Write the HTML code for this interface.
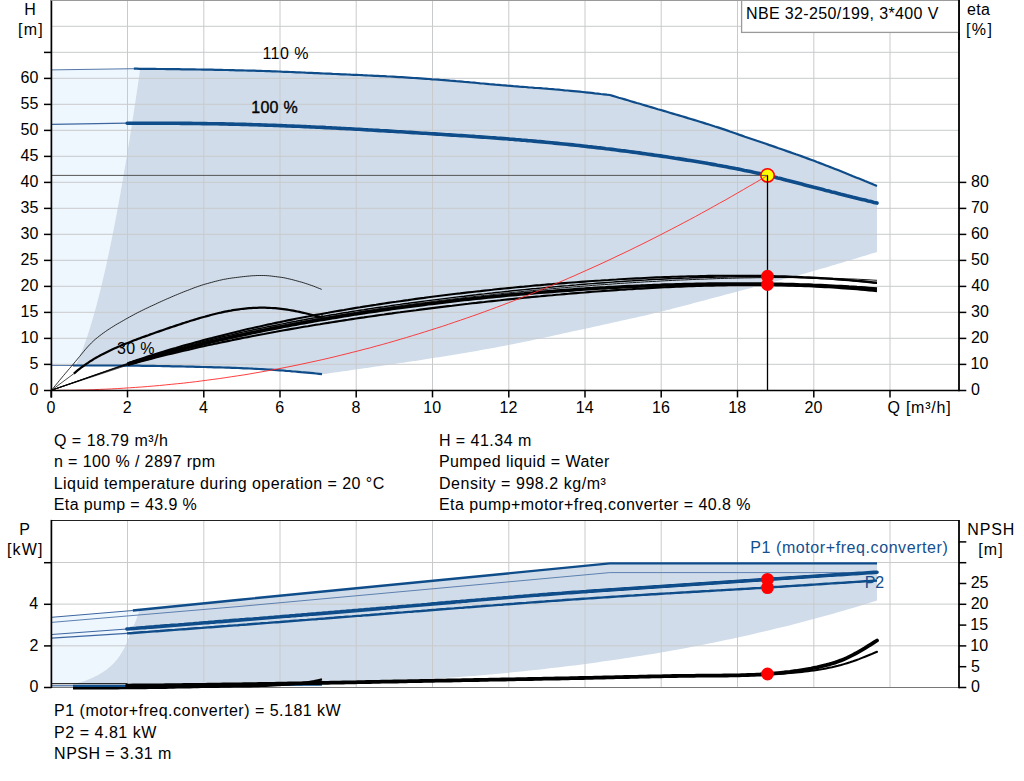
<!DOCTYPE html>
<html><head><meta charset="utf-8"><title>Pump curve</title>
<style>html,body{margin:0;padding:0;background:#fff;}svg{display:block;}text{font-family:"Liberation Sans",sans-serif;}</style></head>
<body>
<svg width="1024" height="781" viewBox="0 0 1024 781" font-family="'Liberation Sans', sans-serif" font-size="16">
<rect width="1024" height="781" fill="#fff"/>
<path d="M51.5 69.9 L133.8 68.7 L141 68.9 L140.1 68.7 L139.7 71.7 L139.3 74.7 L138.9 77.7 L138.4 80.7 L138 83.7 L137.5 86.7 L137.1 89.7 L136.7 92.7 L136.2 95.7 L135.8 98.7 L135.3 101.7 L134.9 104.7 L134.4 107.7 L134 110.7 L133.5 113.7 L133.1 116.7 L132.6 119.7 L132.1 122.7 L131.7 125.7 L131.2 128.7 L130.7 131.7 L130.2 134.7 L129.8 137.7 L129.3 140.7 L128.8 143.6 L128.3 146.6 L127.8 149.6 L127.4 152.6 L126.9 155.6 L126.4 158.6 L125.9 161.6 L125.4 164.6 L124.9 167.6 L124.3 170.6 L123.8 173.6 L123.3 176.6 L122.8 179.6 L122.3 182.6 L121.8 185.6 L121.2 188.6 L120.7 191.6 L120.2 194.6 L119.6 197.6 L119.1 200.6 L118.5 203.6 L118 206.6 L117.4 209.6 L116.9 212.6 L116.3 215.6 L115.7 218.6 L115.2 221.6 L114.6 224.6 L114 227.6 L113.4 230.6 L112.8 233.6 L112.2 236.6 L111.6 239.6 L111 242.6 L110.4 245.6 L109.7 248.6 L109.1 251.6 L108.5 254.6 L107.8 257.6 L107.2 260.6 L106.5 263.6 L105.9 266.6 L105.2 269.6 L104.5 272.6 L103.8 275.6 L103.1 278.6 L102.4 281.6 L101.7 284.6 L101 287.6 L100.2 290.6 L99.5 293.5 L98.7 296.5 L97.9 299.5 L97.2 302.5 L96.4 305.5 L95.6 308.5 L94.7 311.5 L93.9 314.5 L93 317.5 L92.2 320.5 L91.3 323.5 L90.4 326.5 L89.4 329.5 L88.5 332.5 L87.5 335.5 L86.5 338.5 L85.4 341.5 L84.4 344.5 L83.3 347.5 L82.1 350.5 L80.9 353.5 L79.7 356.5 L78.4 359.5 L77 362.5 L75.6 365.5 L51.5 365.6Z" fill="#eef6fe" stroke="none"/>
<path d="M75.6 365.5 L77 362.5 L78.4 359.5 L79.7 356.5 L80.9 353.5 L82.1 350.5 L83.3 347.5 L84.4 344.5 L85.4 341.5 L86.5 338.5 L87.5 335.5 L88.5 332.5 L89.4 329.5 L90.4 326.5 L91.3 323.5 L92.2 320.5 L93 317.5 L93.9 314.5 L94.7 311.5 L95.6 308.5 L96.4 305.5 L97.2 302.5 L97.9 299.5 L98.7 296.5 L99.5 293.5 L100.2 290.6 L101 287.6 L101.7 284.6 L102.4 281.6 L103.1 278.6 L103.8 275.6 L104.5 272.6 L105.2 269.6 L105.9 266.6 L106.5 263.6 L107.2 260.6 L107.8 257.6 L108.5 254.6 L109.1 251.6 L109.7 248.6 L110.4 245.6 L111 242.6 L111.6 239.6 L112.2 236.6 L112.8 233.6 L113.4 230.6 L114 227.6 L114.6 224.6 L115.2 221.6 L115.7 218.6 L116.3 215.6 L116.9 212.6 L117.4 209.6 L118 206.6 L118.5 203.6 L119.1 200.6 L119.6 197.6 L120.2 194.6 L120.7 191.6 L121.2 188.6 L121.8 185.6 L122.3 182.6 L122.8 179.6 L123.3 176.6 L123.8 173.6 L124.3 170.6 L124.9 167.6 L125.4 164.6 L125.9 161.6 L126.4 158.6 L126.9 155.6 L127.4 152.6 L127.8 149.6 L128.3 146.6 L128.8 143.6 L129.3 140.7 L129.8 137.7 L130.2 134.7 L130.7 131.7 L131.2 128.7 L131.7 125.7 L132.1 122.7 L132.6 119.7 L133.1 116.7 L133.5 113.7 L134 110.7 L134.4 107.7 L134.9 104.7 L135.3 101.7 L135.8 98.7 L136.2 95.7 L136.7 92.7 L137.1 89.7 L137.5 86.7 L138 83.7 L138.4 80.7 L138.9 77.7 L139.3 74.7 L139.7 71.7 L140.1 68.7 L142.8 68.8 L145.9 68.8 L148.9 68.9 L151.9 68.9 L154.9 68.9 L157.9 69 L160.9 69 L163.9 69 L166.9 69.1 L170 69.1 L173 69.1 L176 69.2 L179 69.2 L182 69.3 L185 69.3 L188 69.4 L191 69.4 L194.1 69.4 L197.1 69.5 L200.1 69.5 L203.1 69.6 L206.1 69.6 L209.1 69.7 L212.1 69.7 L215.1 69.8 L218.2 69.9 L221.2 69.9 L224.2 70 L227.2 70 L230.2 70.1 L233.2 70.2 L236.2 70.3 L239.2 70.3 L242.3 70.4 L245.3 70.5 L248.3 70.6 L251.3 70.6 L254.3 70.7 L257.3 70.8 L260.3 70.9 L263.3 71 L266.4 71.1 L269.4 71.2 L272.4 71.3 L275.4 71.4 L278.4 71.5 L281.4 71.7 L284.4 71.8 L287.4 71.9 L290.5 72 L293.5 72.1 L296.5 72.3 L299.5 72.4 L302.5 72.5 L305.5 72.7 L308.5 72.8 L311.5 72.9 L314.6 73.1 L317.6 73.2 L320.6 73.3 L323.6 73.5 L326.6 73.6 L329.6 73.7 L332.6 73.9 L335.6 74 L338.7 74.1 L341.7 74.3 L344.7 74.4 L347.7 74.5 L350.7 74.7 L353.7 74.8 L356.7 74.9 L359.7 75 L362.8 75.2 L365.8 75.3 L368.8 75.5 L371.8 75.6 L374.8 75.8 L377.8 75.9 L380.8 76.1 L383.9 76.2 L386.9 76.4 L389.9 76.5 L392.9 76.7 L395.9 76.9 L398.9 77.1 L401.9 77.2 L404.9 77.4 L408 77.6 L411 77.8 L414 78 L417 78.2 L420 78.4 L423 78.6 L426 78.8 L429 79 L432.1 79.3 L435.1 79.5 L438.1 79.7 L441.1 80 L444.1 80.2 L447.1 80.4 L450.1 80.7 L453.1 80.9 L456.2 81.2 L459.2 81.4 L462.2 81.7 L465.2 82 L468.2 82.2 L471.2 82.5 L474.2 82.7 L477.2 83 L480.3 83.3 L483.3 83.5 L486.3 83.8 L489.3 84.1 L492.3 84.3 L495.3 84.6 L498.3 84.8 L501.3 85.1 L504.4 85.3 L507.4 85.6 L510.4 85.8 L513.4 86.1 L516.4 86.3 L519.4 86.6 L522.4 86.8 L525.4 87 L528.5 87.3 L531.5 87.5 L534.5 87.8 L537.5 88 L540.5 88.2 L543.5 88.5 L546.5 88.7 L549.5 89 L552.6 89.2 L555.6 89.5 L558.6 89.7 L561.6 90 L564.6 90.3 L567.6 90.5 L570.6 90.8 L573.6 91.1 L576.7 91.4 L579.7 91.7 L582.7 92 L585.7 92.3 L588.7 92.6 L591.7 92.9 L594.7 93.3 L597.7 93.6 L600.8 94 L603.8 94.3 L606.8 94.7 L609.8 95 L612.8 95.9 L615.8 96.8 L618.8 97.7 L621.8 98.5 L624.8 99.4 L627.8 100.3 L630.8 101.2 L633.8 102.1 L636.8 103 L639.8 103.8 L642.8 104.7 L645.8 105.6 L648.8 106.5 L651.8 107.4 L654.8 108.3 L657.8 109.2 L660.8 110 L663.8 110.9 L666.8 111.8 L669.8 112.7 L672.8 113.6 L675.8 114.5 L678.9 115.4 L681.9 116.2 L684.9 117.1 L687.9 118.1 L690.9 119 L693.9 119.9 L696.9 120.8 L699.9 121.7 L702.9 122.6 L705.9 123.6 L708.9 124.5 L711.9 125.5 L714.9 126.5 L717.9 127.4 L720.9 128.4 L723.9 129.4 L726.9 130.4 L729.9 131.5 L732.9 132.5 L735.9 133.5 L738.9 134.6 L741.9 135.6 L744.9 136.7 L747.9 137.7 L750.9 138.7 L753.9 139.7 L756.9 140.8 L759.9 141.8 L762.9 142.8 L765.9 143.8 L768.9 144.9 L771.9 145.9 L774.9 146.9 L777.9 148 L780.9 149 L783.9 150 L786.9 151.1 L789.9 152.1 L792.9 153.2 L795.9 154.3 L798.9 155.3 L801.9 156.4 L804.9 157.5 L807.9 158.6 L811 159.7 L814 160.8 L817 162 L820 163.1 L823 164.2 L826 165.4 L829 166.6 L832 167.7 L835 168.9 L838 170.1 L841 171.3 L844 172.5 L847 173.7 L850 174.9 L853 176.2 L856 177.4 L859 178.6 L862 179.8 L865 181.1 L868 182.3 L871 183.5 L874 184.8 L877 186 L877 252 L877 252 L874 252.9 L871 253.8 L868 254.8 L865 255.7 L862 256.6 L859 257.5 L856 258.4 L853 259.3 L850 260.2 L847 261.1 L844 262 L841 262.9 L838 263.8 L835 264.7 L832 265.6 L829 266.5 L826 267.4 L823 268.2 L820 269.1 L817 270 L814 270.8 L811 271.7 L808 272.5 L805 273.4 L802 274.2 L799 275 L796 275.8 L793 276.7 L790 277.5 L787 278.3 L784 279.1 L781 279.9 L778 280.7 L775 281.5 L772 282.3 L769 283.1 L766 283.9 L763 284.7 L760 285.5 L757 286.3 L754 287.1 L751 287.9 L748 288.7 L745 289.5 L742 290.3 L739 291.1 L736 291.9 L733 292.7 L730 293.5 L727 294.3 L724 295.1 L721 295.9 L718 296.7 L715 297.5 L712 298.3 L709 299.1 L706 299.9 L703 300.7 L700 301.5 L697 302.3 L694 303.1 L691 303.9 L688 304.7 L685 305.5 L682 306.3 L679 307.1 L676 307.8 L673 308.6 L670 309.4 L667 310.1 L664 310.9 L661 311.6 L658 312.3 L655 313.1 L652 313.8 L649 314.5 L646 315.2 L643 315.9 L640 316.6 L637 317.3 L634 317.9 L631 318.6 L628 319.3 L625 320 L622 320.6 L619 321.3 L616 322 L613 322.6 L610 323.3 L607 323.9 L604 324.6 L601 325.2 L598 325.9 L595 326.5 L592 327.2 L589 327.9 L586 328.5 L583 329.2 L580 329.8 L577 330.5 L574 331.1 L571 331.8 L568 332.5 L565 333.1 L562 333.8 L559 334.4 L556 335.1 L553 335.7 L550 336.4 L547 337 L544 337.7 L541 338.3 L538 339 L535 339.6 L532 340.2 L529 340.9 L526 341.5 L523 342.1 L520 342.7 L517 343.3 L514 343.9 L511 344.5 L508 345.1 L505 345.7 L502 346.3 L499 346.8 L496 347.4 L493 348 L490 348.5 L487 349.1 L484 349.6 L481 350.1 L478 350.7 L475 351.2 L472 351.7 L469 352.2 L466 352.8 L463 353.3 L460 353.8 L457 354.3 L454 354.8 L451 355.2 L448 355.7 L445 356.2 L442 356.7 L439 357.2 L436 357.6 L433 358.1 L430 358.6 L427 359 L424 359.5 L421 360 L418 360.4 L415 360.9 L412 361.3 L409 361.8 L406 362.2 L403 362.7 L400 363.1 L397 363.6 L394 364 L391 364.4 L388 364.9 L385 365.3 L382 365.7 L379 366.2 L376 366.6 L373 367 L370 367.5 L367 367.9 L364 368.3 L361 368.8 L358 369.2 L355 369.6 L352 370 L349 370.5 L346 370.9 L343 371.3 L340 371.7 L337 372.2 L334 372.6 L331 373 L328 373.4 L325 373.9 L322 374.3 L322 374.1 L319 373.8 L316 373.5 L313 373.2 L310 372.9 L307 372.6 L304 372.3 L301 372.1 L298 371.8 L295 371.5 L292 371.3 L289 371 L286 370.8 L283 370.5 L280 370.3 L277 370.1 L274 369.9 L271 369.7 L268 369.5 L265 369.3 L262 369.1 L259 369 L256 368.8 L253 368.7 L250 368.5 L247 368.4 L244 368.3 L241 368.1 L238 368 L235 367.9 L232 367.8 L229 367.7 L226 367.6 L223 367.5 L220 367.4 L217 367.4 L214 367.3 L211 367.2 L208 367.1 L205 367 L202 367 L199 366.9 L196 366.8 L193 366.7 L190 366.7 L187 366.6 L184 366.5 L181 366.4 L178 366.4 L175 366.3 L172 366.3 L169 366.2 L166 366.1 L163 366.1 L160 366 L157 366 L154 365.9 L151 365.9 L148 365.8 L145 365.8 L142 365.8 L139 365.7 L136 365.7 L133 365.6 L130 365.6 L127 365.6 L124 365.6 L121 365.6 L118 365.5 L115 365.5 L112 365.5 L109 365.5 L106 365.5 L103 365.5 L100 365.5 L97 365.5 L94 365.5 L91 365.5 L88 365.5 L85 365.5 L82 365.5 L79 365.5 L76 365.5 L73 365.5Z" fill="#d0dce9" stroke="none"/>
<path d="M51.5 617.3 L132.8 610.5 L139.6 609.9 L139.6 610 L138.1 614.3 L136.6 618.5 L135.1 622.4 L133.5 626 L132 629.5 L130.5 633.2 L129 637 L127.5 640.8 L126 644.4 L124.5 647.7 L122.9 650.6 L121.4 653.1 L119.9 655.4 L118.4 657.5 L116.9 659.4 L115.4 661.2 L113.9 662.9 L112.4 664.4 L110.8 665.9 L109.3 667.2 L107.8 668.5 L106.3 669.7 L104.8 670.8 L103.3 671.8 L101.8 672.8 L100.2 673.7 L98.7 674.5 L97.2 675.4 L95.7 676.1 L94.2 676.9 L92.7 677.6 L91.2 678.3 L89.7 679 L88.1 679.6 L86.6 680.2 L85.1 680.8 L83.6 681.3 L82.1 681.8 L80.6 682.2 L79.1 682.6 L77.5 683 L76 683.3 L74.5 683.7 L73 684 L51.5 684.2Z" fill="#eef6fe" stroke="none"/>
<path d="M73 684 L74.5 683.7 L76 683.3 L77.5 683 L79.1 682.6 L80.6 682.2 L82.1 681.8 L83.6 681.3 L85.1 680.8 L86.6 680.2 L88.1 679.6 L89.7 679 L91.2 678.3 L92.7 677.6 L94.2 676.9 L95.7 676.1 L97.2 675.4 L98.7 674.5 L100.2 673.7 L101.8 672.8 L103.3 671.8 L104.8 670.8 L106.3 669.7 L107.8 668.5 L109.3 667.2 L110.8 665.9 L112.4 664.4 L113.9 662.9 L115.4 661.2 L116.9 659.4 L118.4 657.5 L119.9 655.4 L121.4 653.1 L122.9 650.6 L124.5 647.7 L126 644.4 L127.5 640.8 L129 637 L130.5 633.2 L132 629.5 L133.5 626 L135.1 622.4 L136.6 618.5 L138.1 614.3 L139.6 610 L240 599.7 L609.8 563.4 L877 563.4 L877 600.4 L877 600.5 L871.4 602.2 L865.8 604 L860.2 605.7 L854.6 607.4 L849 609 L843.4 610.7 L837.8 612.3 L832.2 613.9 L826.5 615.5 L820.9 617 L815.3 618.5 L809.7 620.1 L804.1 621.5 L798.5 623 L792.9 624.4 L787.3 625.9 L781.7 627.3 L776.1 628.6 L770.5 630 L764.9 631.3 L759.3 632.6 L753.7 633.9 L748.1 635.2 L742.5 636.5 L736.8 637.7 L731.2 638.9 L725.6 640.1 L720 641.3 L714.4 642.4 L708.8 643.6 L703.2 644.7 L697.6 645.8 L692 646.8 L686.4 647.9 L680.8 648.9 L675.2 650 L669.6 651 L664 651.9 L658.4 652.9 L652.8 653.9 L647.2 654.8 L641.5 655.7 L635.9 656.6 L630.3 657.5 L624.7 658.3 L619.1 659.2 L613.5 660 L607.9 660.8 L602.3 661.6 L596.7 662.4 L591.1 663.2 L585.5 663.9 L579.9 664.7 L574.3 665.4 L568.7 666.1 L563.1 666.8 L557.5 667.5 L551.8 668.1 L546.2 668.8 L540.6 669.4 L535 670 L529.4 670.6 L523.8 671.2 L518.2 671.8 L512.6 672.3 L507 672.9 L501.4 673.4 L495.8 673.9 L490.2 674.4 L484.6 674.9 L479 675.4 L473.4 675.9 L467.8 676.3 L462.2 676.8 L456.5 677.2 L450.9 677.6 L445.3 678 L439.7 678.4 L434.1 678.8 L428.5 679.2 L422.9 679.6 L417.3 679.9 L411.7 680.3 L406.1 680.6 L400.5 680.9 L394.9 681.2 L389.3 681.5 L383.7 681.8 L378.1 682.1 L372.5 682.4 L366.8 682.6 L361.2 682.9 L355.6 683.1 L350 683.4 L344.4 683.6 L338.8 683.8 L333.2 684 L327.6 684.2 L322 684.4 L322 684.4Z" fill="#d0dce9" stroke="none"/>
<line x1="127.5" y1="0" x2="127.5" y2="390.4" stroke="#c8cacc" stroke-width="1" />
<line x1="127.5" y1="520.5" x2="127.5" y2="687.5" stroke="#c8cacc" stroke-width="1" />
<line x1="203.8" y1="0" x2="203.8" y2="390.4" stroke="#c8cacc" stroke-width="1" />
<line x1="203.8" y1="520.5" x2="203.8" y2="687.5" stroke="#c8cacc" stroke-width="1" />
<line x1="280" y1="0" x2="280" y2="390.4" stroke="#c8cacc" stroke-width="1" />
<line x1="280" y1="520.5" x2="280" y2="687.5" stroke="#c8cacc" stroke-width="1" />
<line x1="356.2" y1="0" x2="356.2" y2="390.4" stroke="#c8cacc" stroke-width="1" />
<line x1="356.2" y1="520.5" x2="356.2" y2="687.5" stroke="#c8cacc" stroke-width="1" />
<line x1="432.5" y1="0" x2="432.5" y2="390.4" stroke="#c8cacc" stroke-width="1" />
<line x1="432.5" y1="520.5" x2="432.5" y2="687.5" stroke="#c8cacc" stroke-width="1" />
<line x1="508.8" y1="0" x2="508.8" y2="390.4" stroke="#c8cacc" stroke-width="1" />
<line x1="508.8" y1="520.5" x2="508.8" y2="687.5" stroke="#c8cacc" stroke-width="1" />
<line x1="585" y1="0" x2="585" y2="390.4" stroke="#c8cacc" stroke-width="1" />
<line x1="585" y1="520.5" x2="585" y2="687.5" stroke="#c8cacc" stroke-width="1" />
<line x1="661.2" y1="0" x2="661.2" y2="390.4" stroke="#c8cacc" stroke-width="1" />
<line x1="661.2" y1="520.5" x2="661.2" y2="687.5" stroke="#c8cacc" stroke-width="1" />
<line x1="737.5" y1="0" x2="737.5" y2="390.4" stroke="#c8cacc" stroke-width="1" />
<line x1="737.5" y1="520.5" x2="737.5" y2="687.5" stroke="#c8cacc" stroke-width="1" />
<line x1="813.8" y1="0" x2="813.8" y2="390.4" stroke="#c8cacc" stroke-width="1" />
<line x1="813.8" y1="520.5" x2="813.8" y2="687.5" stroke="#c8cacc" stroke-width="1" />
<line x1="890" y1="0" x2="890" y2="390.4" stroke="#c8cacc" stroke-width="1" />
<line x1="890" y1="520.5" x2="890" y2="687.5" stroke="#c8cacc" stroke-width="1" />
<line x1="51.2" y1="364.3" x2="959" y2="364.3" stroke="#c8cacc" stroke-width="1" />
<line x1="51.2" y1="338.3" x2="959" y2="338.3" stroke="#c8cacc" stroke-width="1" />
<line x1="51.2" y1="312.3" x2="959" y2="312.3" stroke="#c8cacc" stroke-width="1" />
<line x1="51.2" y1="286.3" x2="959" y2="286.3" stroke="#c8cacc" stroke-width="1" />
<line x1="51.2" y1="260.3" x2="959" y2="260.3" stroke="#c8cacc" stroke-width="1" />
<line x1="51.2" y1="234.3" x2="959" y2="234.3" stroke="#c8cacc" stroke-width="1" />
<line x1="51.2" y1="208.3" x2="959" y2="208.3" stroke="#c8cacc" stroke-width="1" />
<line x1="51.2" y1="182.3" x2="959" y2="182.3" stroke="#c8cacc" stroke-width="1" />
<line x1="51.2" y1="156.3" x2="959" y2="156.3" stroke="#c8cacc" stroke-width="1" />
<line x1="51.2" y1="130.3" x2="959" y2="130.3" stroke="#c8cacc" stroke-width="1" />
<line x1="51.2" y1="104.3" x2="959" y2="104.3" stroke="#c8cacc" stroke-width="1" />
<line x1="51.2" y1="78.3" x2="959" y2="78.3" stroke="#c8cacc" stroke-width="1" />
<line x1="51.2" y1="52.3" x2="959" y2="52.3" stroke="#c8cacc" stroke-width="1" />
<line x1="51.2" y1="26.3" x2="959" y2="26.3" stroke="#c8cacc" stroke-width="1" />
<line x1="51.2" y1="645.8" x2="959" y2="645.8" stroke="#c8cacc" stroke-width="1" />
<line x1="51.2" y1="604.1" x2="959" y2="604.1" stroke="#c8cacc" stroke-width="1" />
<line x1="51.2" y1="562.5" x2="959" y2="562.5" stroke="#c8cacc" stroke-width="1" />
<line x1="51.2" y1="0.5" x2="959" y2="0.5" stroke="#9a9a9a" stroke-width="1.2" />
<line x1="51.2" y1="520.5" x2="959" y2="520.5" stroke="#222" stroke-width="1" />
<line x1="51.2" y1="687.5" x2="959" y2="687.5" stroke="#777" stroke-width="1" />
<path d="M51.5 69.9 L133.8 68.7" fill="none" stroke="#5578a8" stroke-width="1" />
<path d="M133.8 68.7 L136.8 68.7 L139.8 68.8 L142.8 68.8 L145.9 68.8 L148.9 68.9 L151.9 68.9 L154.9 68.9 L157.9 69 L160.9 69 L163.9 69 L166.9 69.1 L170 69.1 L173 69.1 L176 69.2 L179 69.2 L182 69.3 L185 69.3 L188 69.4 L191 69.4 L194.1 69.4 L197.1 69.5 L200.1 69.5 L203.1 69.6 L206.1 69.6 L209.1 69.7 L212.1 69.7 L215.1 69.8 L218.2 69.9 L221.2 69.9 L224.2 70 L227.2 70 L230.2 70.1 L233.2 70.2 L236.2 70.3 L239.2 70.3 L242.3 70.4 L245.3 70.5 L248.3 70.6 L251.3 70.6 L254.3 70.7 L257.3 70.8 L260.3 70.9 L263.3 71 L266.4 71.1 L269.4 71.2 L272.4 71.3 L275.4 71.4 L278.4 71.5 L281.4 71.7 L284.4 71.8 L287.4 71.9 L290.5 72 L293.5 72.1 L296.5 72.3 L299.5 72.4 L302.5 72.5 L305.5 72.7 L308.5 72.8 L311.5 72.9 L314.6 73.1 L317.6 73.2 L320.6 73.3 L323.6 73.5 L326.6 73.6 L329.6 73.7 L332.6 73.9 L335.6 74 L338.7 74.1 L341.7 74.3 L344.7 74.4 L347.7 74.5 L350.7 74.7 L353.7 74.8 L356.7 74.9 L359.7 75 L362.8 75.2 L365.8 75.3 L368.8 75.5 L371.8 75.6 L374.8 75.8 L377.8 75.9 L380.8 76.1 L383.9 76.2 L386.9 76.4 L389.9 76.5 L392.9 76.7 L395.9 76.9 L398.9 77.1 L401.9 77.2 L404.9 77.4 L408 77.6 L411 77.8 L414 78 L417 78.2 L420 78.4 L423 78.6 L426 78.8 L429 79 L432.1 79.3 L435.1 79.5 L438.1 79.7 L441.1 80 L444.1 80.2 L447.1 80.4 L450.1 80.7 L453.1 80.9 L456.2 81.2 L459.2 81.4 L462.2 81.7 L465.2 82 L468.2 82.2 L471.2 82.5 L474.2 82.7 L477.2 83 L480.3 83.3 L483.3 83.5 L486.3 83.8 L489.3 84.1 L492.3 84.3 L495.3 84.6 L498.3 84.8 L501.3 85.1 L504.4 85.3 L507.4 85.6 L510.4 85.8 L513.4 86.1 L516.4 86.3 L519.4 86.6 L522.4 86.8 L525.4 87 L528.5 87.3 L531.5 87.5 L534.5 87.8 L537.5 88 L540.5 88.2 L543.5 88.5 L546.5 88.7 L549.5 89 L552.6 89.2 L555.6 89.5 L558.6 89.7 L561.6 90 L564.6 90.3 L567.6 90.5 L570.6 90.8 L573.6 91.1 L576.7 91.4 L579.7 91.7 L582.7 92 L585.7 92.3 L588.7 92.6 L591.7 92.9 L594.7 93.3 L597.7 93.6 L600.8 94 L603.8 94.3 L606.8 94.7 L609.8 95 L612.8 95.9 L615.8 96.8 L618.8 97.7 L621.8 98.5 L624.8 99.4 L627.8 100.3 L630.8 101.2 L633.8 102.1 L636.8 103 L639.8 103.8 L642.8 104.7 L645.8 105.6 L648.8 106.5 L651.8 107.4 L654.8 108.3 L657.8 109.2 L660.8 110 L663.8 110.9 L666.8 111.8 L669.8 112.7 L672.8 113.6 L675.8 114.5 L678.9 115.4 L681.9 116.2 L684.9 117.1 L687.9 118.1 L690.9 119 L693.9 119.9 L696.9 120.8 L699.9 121.7 L702.9 122.6 L705.9 123.6 L708.9 124.5 L711.9 125.5 L714.9 126.5 L717.9 127.4 L720.9 128.4 L723.9 129.4 L726.9 130.4 L729.9 131.5 L732.9 132.5 L735.9 133.5 L738.9 134.6 L741.9 135.6 L744.9 136.7 L747.9 137.7 L750.9 138.7 L753.9 139.7 L756.9 140.8 L759.9 141.8 L762.9 142.8 L765.9 143.8 L768.9 144.9 L771.9 145.9 L774.9 146.9 L777.9 148 L780.9 149 L783.9 150 L786.9 151.1 L789.9 152.1 L792.9 153.2 L795.9 154.3 L798.9 155.3 L801.9 156.4 L804.9 157.5 L807.9 158.6 L811 159.7 L814 160.8 L817 162 L820 163.1 L823 164.2 L826 165.4 L829 166.6 L832 167.7 L835 168.9 L838 170.1 L841 171.3 L844 172.5 L847 173.7 L850 174.9 L853 176.2 L856 177.4 L859 178.6 L862 179.8 L865 181.1 L868 182.3 L871 183.5 L874 184.8 L877 186" fill="none" stroke="#0f4c8a" stroke-width="2.2" stroke-linejoin="round"/>
<path d="M51.5 124.4 L127.2 123.2" fill="none" stroke="#3d66a0" stroke-width="1.2" />
<path d="M127.2 123.2 L130.2 123.2 L133.2 123.2 L136.2 123.2 L139.2 123.2 L142.3 123.2 L145.3 123.2 L148.3 123.2 L151.3 123.2 L154.3 123.2 L157.3 123.2 L160.3 123.3 L163.3 123.3 L166.3 123.3 L169.4 123.3 L172.4 123.3 L175.4 123.3 L178.4 123.3 L181.4 123.4 L184.4 123.4 L187.4 123.4 L190.4 123.4 L193.4 123.5 L196.5 123.5 L199.5 123.5 L202.5 123.6 L205.5 123.6 L208.5 123.7 L211.5 123.7 L214.5 123.8 L217.5 123.8 L220.5 123.9 L223.6 123.9 L226.6 124 L229.6 124.1 L232.6 124.1 L235.6 124.2 L238.6 124.3 L241.6 124.4 L244.6 124.4 L247.6 124.5 L250.7 124.6 L253.7 124.7 L256.7 124.8 L259.7 124.9 L262.7 125 L265.7 125.1 L268.7 125.2 L271.7 125.3 L274.8 125.4 L277.8 125.5 L280.8 125.6 L283.8 125.7 L286.8 125.9 L289.8 126 L292.8 126.1 L295.8 126.2 L298.8 126.3 L301.9 126.5 L304.9 126.6 L307.9 126.7 L310.9 126.9 L313.9 127 L316.9 127.2 L319.9 127.3 L322.9 127.4 L325.9 127.6 L329 127.7 L332 127.9 L335 128 L338 128.2 L341 128.4 L344 128.5 L347 128.7 L350 128.8 L353 129 L356.1 129.2 L359.1 129.3 L362.1 129.5 L365.1 129.7 L368.1 129.9 L371.1 130 L374.1 130.2 L377.1 130.4 L380.1 130.6 L383.2 130.7 L386.2 130.9 L389.2 131.1 L392.2 131.3 L395.2 131.5 L398.2 131.7 L401.2 131.8 L404.2 132 L407.2 132.2 L410.3 132.4 L413.3 132.6 L416.3 132.8 L419.3 133 L422.3 133.2 L425.3 133.3 L428.3 133.5 L431.3 133.7 L434.3 133.9 L437.4 134.1 L440.4 134.3 L443.4 134.5 L446.4 134.7 L449.4 134.9 L452.4 135.1 L455.4 135.3 L458.4 135.5 L461.4 135.6 L464.5 135.8 L467.5 136 L470.5 136.2 L473.5 136.4 L476.5 136.7 L479.5 136.9 L482.5 137.1 L485.5 137.3 L488.5 137.5 L491.6 137.7 L494.6 137.9 L497.6 138.2 L500.6 138.4 L503.6 138.6 L506.6 138.8 L509.6 139.1 L512.6 139.3 L515.7 139.6 L518.7 139.8 L521.7 140.1 L524.7 140.3 L527.7 140.6 L530.7 140.8 L533.7 141.1 L536.7 141.4 L539.7 141.6 L542.8 141.9 L545.8 142.2 L548.8 142.5 L551.8 142.8 L554.8 143.1 L557.8 143.4 L560.8 143.7 L563.8 144 L566.8 144.3 L569.9 144.6 L572.9 144.9 L575.9 145.2 L578.9 145.5 L581.9 145.9 L584.9 146.2 L587.9 146.6 L590.9 146.9 L593.9 147.2 L597 147.6 L600 147.9 L603 148.3 L606 148.7 L609 149 L612 149.4 L615 149.8 L618 150.2 L621 150.6 L624.1 150.9 L627.1 151.3 L630.1 151.7 L633.1 152.1 L636.1 152.5 L639.1 152.9 L642.1 153.4 L645.1 153.8 L648.1 154.2 L651.2 154.6 L654.2 155.1 L657.2 155.5 L660.2 155.9 L663.2 156.4 L666.2 156.8 L669.2 157.3 L672.2 157.7 L675.2 158.2 L678.3 158.6 L681.3 159.1 L684.3 159.6 L687.3 160.1 L690.3 160.5 L693.3 161 L696.3 161.5 L699.3 162 L702.3 162.5 L705.4 163 L708.4 163.6 L711.4 164.1 L714.4 164.6 L717.4 165.2 L720.4 165.7 L723.4 166.3 L726.4 166.8 L729.4 167.4 L732.5 168 L735.5 168.6 L738.5 169.1 L741.5 169.7 L744.5 170.4 L747.5 171 L750.5 171.6 L753.5 172.3 L756.6 172.9 L759.6 173.6 L762.6 174.3 L765.6 175 L768.6 175.7 L771.6 176.4 L774.6 177.1 L777.6 177.9 L780.6 178.6 L783.7 179.4 L786.7 180.2 L789.7 180.9 L792.7 181.7 L795.7 182.5 L798.7 183.3 L801.7 184.1 L804.7 184.9 L807.7 185.7 L810.8 186.5 L813.8 187.3 L816.8 188 L819.8 188.8 L822.8 189.6 L825.8 190.4 L828.8 191.1 L831.8 191.9 L834.8 192.6 L837.9 193.4 L840.9 194.2 L843.9 194.9 L846.9 195.7 L849.9 196.4 L852.9 197.2 L855.9 197.9 L858.9 198.7 L861.9 199.4 L865 200.1 L868 200.9 L871 201.6 L874 202.4 L877 203.1" fill="none" stroke="#0f4c8a" stroke-width="3.6" stroke-linecap="round"/>
<path d="M51.5 365.4 L73 365.5" fill="none" stroke="#5578a8" stroke-width="1" />
<path d="M73 365.5 L76 365.5 L79 365.5 L82 365.5 L85 365.5 L88 365.5 L91 365.5 L94 365.5 L97 365.5 L100 365.5 L103 365.5 L106 365.5 L109 365.5 L112 365.5 L115 365.5 L118 365.5 L121 365.6 L124 365.6 L127 365.6 L130 365.6 L133 365.6 L136 365.7 L139 365.7 L142 365.8 L145 365.8 L148 365.8 L151 365.9 L154 365.9 L157 366 L160 366 L163 366.1 L166 366.1 L169 366.2 L172 366.3 L175 366.3 L178 366.4 L181 366.4 L184 366.5 L187 366.6 L190 366.7 L193 366.7 L196 366.8 L199 366.9 L202 367 L205 367 L208 367.1 L211 367.2 L214 367.3 L217 367.4 L220 367.4 L223 367.5 L226 367.6 L229 367.7 L232 367.8 L235 367.9 L238 368 L241 368.1 L244 368.3 L247 368.4 L250 368.5 L253 368.7 L256 368.8 L259 369 L262 369.1 L265 369.3 L268 369.5 L271 369.7 L274 369.9 L277 370.1 L280 370.3 L283 370.5 L286 370.8 L289 371 L292 371.3 L295 371.5 L298 371.8 L301 372.1 L304 372.3 L307 372.6 L310 372.9 L313 373.2 L316 373.5 L319 373.8 L322 374.1" fill="none" stroke="#0f4c8a" stroke-width="2.2" />
<text x="262.4" y="58.7" fill="#000" textLength="46.2" lengthAdjust="spacing" >110 %</text>
<text x="251.2" y="112.6" fill="#000" textLength="46.5" lengthAdjust="spacing" stroke="#000" stroke-width="0.35">100 %</text>
<text x="117" y="354.4" fill="#000" textLength="37.6" lengthAdjust="spacing" >30 %</text>
<line x1="51.2" y1="175.4" x2="767.5" y2="175.4" stroke="#555" stroke-width="1" />
<path d="M51.5 390.2 L53.5 387.7 L55.5 385.3 L57.5 382.9 L59.5 380.4 L61.5 378 L63.5 375.6 L65.5 373.2 L67.5 370.9 L69.5 368.5 L71.5 366.2 L73.5 363.8 L75.5 361.4 L77.5 359 L79.5 356.6 L81.5 354.1 L83.5 351.7 L85.5 349.3 L87.5 347 L89.5 344.9 L91.5 342.8 L93.5 340.9 L95.5 339.1 L97.5 337.5 L99.5 335.9 L101.5 334.4 L103.5 332.9 L105.5 331.5 L107.5 330.1 L109.5 328.8 L111.5 327.5 L113.5 326.3 L115.5 325 L117.5 323.8 L119.6 322.7 L121.6 321.5 L123.6 320.4 L125.6 319.2 L127.6 318.1 L129.6 317 L131.6 315.9 L133.6 314.8 L135.6 313.7 L137.6 312.7 L139.6 311.7 L141.6 310.7 L143.6 309.7 L145.6 308.7 L147.6 307.8 L149.6 306.8 L151.6 305.9 L153.6 305 L155.6 304.1 L157.6 303.1 L159.6 302.2 L161.6 301.3 L163.6 300.4 L165.6 299.5 L167.6 298.6 L169.6 297.8 L171.6 296.9 L173.6 296 L175.6 295.2 L177.6 294.4 L179.6 293.5 L181.6 292.7 L183.6 291.9 L185.6 291.1 L187.6 290.4 L189.6 289.6 L191.6 288.8 L193.6 288 L195.6 287.3 L197.6 286.6 L199.6 285.9 L201.6 285.2 L203.6 284.6 L205.6 284 L207.6 283.5 L209.6 282.9 L211.6 282.4 L213.6 281.8 L215.6 281.3 L217.6 280.8 L219.6 280.3 L221.6 279.9 L223.6 279.4 L225.6 279.1 L227.6 278.7 L229.6 278.4 L231.6 278.1 L233.6 277.8 L235.6 277.6 L237.6 277.3 L239.6 277.1 L241.6 276.8 L243.6 276.6 L245.6 276.4 L247.6 276.2 L249.6 276 L251.6 275.8 L253.6 275.7 L255.7 275.6 L257.7 275.5 L259.7 275.5 L261.7 275.5 L263.7 275.5 L265.7 275.6 L267.7 275.7 L269.7 275.9 L271.7 276.1 L273.7 276.4 L275.7 276.6 L277.7 276.9 L279.7 277.1 L281.7 277.4 L283.7 277.7 L285.7 278.1 L287.7 278.6 L289.7 279 L291.7 279.5 L293.7 280 L295.7 280.6 L297.7 281.1 L299.7 281.7 L301.7 282.2 L303.7 282.8 L305.7 283.5 L307.7 284.1 L309.7 284.8 L311.7 285.5 L313.7 286.2 L315.7 287 L317.7 287.8 L319.7 288.6 L321.7 289.4" fill="none" stroke="#000" stroke-width="0.8" />
<path d="M73.9 373.6 L75.9 371.9 L77.9 370.2 L79.9 368.6 L82 367 L84 365.6 L86 364.1 L88 362.8 L90 361.4 L92 360.2 L94 358.9 L96 357.8 L98.1 356.6 L100.1 355.5 L102.1 354.4 L104.1 353.4 L106.1 352.4 L108.1 351.4 L110.1 350.4 L112.1 349.5 L114.2 348.6 L116.2 347.7 L118.2 346.8 L120.2 346 L122.2 345.1 L124.2 344.3 L126.2 343.5 L128.3 342.7 L130.3 341.9 L132.3 341.1 L134.3 340.3 L136.3 339.6 L138.3 338.8 L140.3 338.1 L142.3 337.3 L144.4 336.6 L146.4 335.9 L148.4 335.2 L150.4 334.4 L152.4 333.7 L154.4 333 L156.4 332.3 L158.4 331.6 L160.5 330.9 L162.5 330.2 L164.5 329.5 L166.5 328.8 L168.5 328.1 L170.5 327.4 L172.5 326.8 L174.6 326.1 L176.6 325.4 L178.6 324.7 L180.6 324.1 L182.6 323.4 L184.6 322.8 L186.6 322.1 L188.6 321.5 L190.7 320.8 L192.7 320.2 L194.7 319.6 L196.7 319 L198.7 318.4 L200.7 317.8 L202.7 317.2 L204.7 316.7 L206.8 316.1 L208.8 315.6 L210.8 315 L212.8 314.5 L214.8 314 L216.8 313.5 L218.8 313 L220.8 312.6 L222.9 312.1 L224.9 311.7 L226.9 311.3 L228.9 310.9 L230.9 310.6 L232.9 310.2 L234.9 309.9 L237 309.6 L239 309.3 L241 309 L243 308.8 L245 308.6 L247 308.4 L249 308.2 L251 308.1 L253.1 307.9 L255.1 307.8 L257.1 307.8 L259.1 307.7 L261.1 307.7 L263.1 307.7 L265.1 307.7 L267.1 307.8 L269.2 307.8 L271.2 308 L273.2 308.1 L275.2 308.2 L277.2 308.4 L279.2 308.6 L281.2 308.8 L283.3 309.1 L285.3 309.4 L287.3 309.7 L289.3 310 L291.3 310.3 L293.3 310.7 L295.3 311.1 L297.3 311.5 L299.4 311.9 L301.4 312.4 L303.4 312.8 L305.4 313.3 L307.4 313.8 L309.4 314.3 L311.4 314.8 L313.4 315.3 L315.5 315.9 L317.5 316.4 L319.5 316.9 L321.5 317.5" fill="none" stroke="#000" stroke-width="2.2" />
<line x1="322" y1="313.5" x2="322" y2="318.5" stroke="#000" stroke-width="1.2" />
<path d="M51.5 390.2 L127.6 363.3" fill="none" stroke="#000" stroke-width="0.7" />
<path d="M127.6 363.3 L131.6 361.9 L135.6 360.6 L139.6 359.2 L143.6 357.9 L147.6 356.6 L151.6 355.3 L155.7 354 L159.7 352.8 L163.7 351.6 L167.7 350.3 L171.7 349.1 L175.7 348 L179.7 346.8 L183.7 345.6 L187.7 344.5 L191.7 343.4 L195.7 342.3 L199.7 341.2 L203.7 340.1 L207.7 339 L211.8 338 L215.8 336.9 L219.8 335.9 L223.8 334.9 L227.8 333.9 L231.8 332.9 L235.8 331.9 L239.8 331 L243.8 330 L247.8 329.1 L251.8 328.2 L255.8 327.3 L259.8 326.4 L263.9 325.5 L267.9 324.6 L271.9 323.8 L275.9 322.9 L279.9 322.1 L283.9 321.2 L287.9 320.4 L291.9 319.6 L295.9 318.8 L299.9 318 L303.9 317.2 L307.9 316.5 L311.9 315.7 L316 314.9 L320 314.2 L324 313.5 L328 312.8 L332 312 L336 311.3 L340 310.6 L344 310 L348 309.3 L352 308.6 L356 307.9 L360 307.3 L364 306.6 L368 306 L372.1 305.4 L376.1 304.8 L380.1 304.1 L384.1 303.5 L388.1 302.9 L392.1 302.3 L396.1 301.8 L400.1 301.2 L404.1 300.6 L408.1 300.1 L412.1 299.5 L416.1 298.9 L420.1 298.4 L424.2 297.9 L428.2 297.3 L432.2 296.8 L436.2 296.3 L440.2 295.8 L444.2 295.3 L448.2 294.8 L452.2 294.3 L456.2 293.8 L460.2 293.4 L464.2 292.9 L468.2 292.4 L472.2 292 L476.3 291.5 L480.3 291.1 L484.3 290.6 L488.3 290.2 L492.3 289.8 L496.3 289.3 L500.3 288.9 L504.3 288.5 L508.3 288.1 L512.3 287.7 L516.3 287.3 L520.3 286.9 L524.3 286.6 L528.3 286.2 L532.4 285.8 L536.4 285.4 L540.4 285.1 L544.4 284.7 L548.4 284.4 L552.4 284.1 L556.4 283.7 L560.4 283.4 L564.4 283.1 L568.4 282.8 L572.4 282.5 L576.4 282.2 L580.4 281.9 L584.5 281.6 L588.5 281.3 L592.5 281 L596.5 280.7 L600.5 280.5 L604.5 280.2 L608.5 280 L612.5 279.7 L616.5 279.5 L620.5 279.2 L624.5 279 L628.5 278.8 L632.5 278.6 L636.6 278.4 L640.6 278.2 L644.6 278 L648.6 277.8 L652.6 277.6 L656.6 277.4 L660.6 277.3 L664.6 277.1 L668.6 277 L672.6 276.8 L676.6 276.7 L680.6 276.6 L684.6 276.5 L688.6 276.3 L692.7 276.2 L696.7 276.2 L700.7 276.1 L704.7 276 L708.7 275.9 L712.7 275.9 L716.7 275.8 L720.7 275.8 L724.7 275.7 L728.7 275.7 L732.7 275.7 L736.7 275.7 L740.7 275.7 L744.8 275.7 L748.8 275.7 L752.8 275.8 L756.8 275.8 L760.8 275.9 L764.8 275.9 L768.8 276 L772.8 276.1 L776.8 276.2 L780.8 276.3 L784.8 276.4 L788.8 276.5 L792.8 276.7 L796.9 276.8 L800.9 277 L804.9 277.2 L808.9 277.4 L812.9 277.6 L816.9 277.8 L820.9 278 L824.9 278.2 L828.9 278.5 L832.9 278.8 L836.9 279 L840.9 279.3 L844.9 279.7 L848.9 280 L853 280.3 L857 280.7 L861 281 L865 281.4 L869 281.8 L873 282.2 L877 282.6" fill="none" stroke="#000" stroke-width="2.1" />
<path d="M51.5 390.2 L127.6 363.8" fill="none" stroke="#000" stroke-width="0.7" />
<path d="M127.6 363.8 L131.6 362.5 L135.6 361.2 L139.6 359.9 L143.6 358.6 L147.6 357.3 L151.6 356.1 L155.7 354.9 L159.7 353.7 L163.7 352.5 L167.7 351.3 L171.7 350.2 L175.7 349 L179.7 347.9 L183.7 346.8 L187.7 345.7 L191.7 344.6 L195.7 343.6 L199.7 342.5 L203.7 341.5 L207.7 340.5 L211.8 339.5 L215.8 338.5 L219.8 337.5 L223.8 336.5 L227.8 335.6 L231.8 334.7 L235.8 333.7 L239.8 332.8 L243.8 331.9 L247.8 331 L251.8 330.2 L255.8 329.3 L259.8 328.5 L263.9 327.6 L267.9 326.8 L271.9 326 L275.9 325.2 L279.9 324.4 L283.9 323.6 L287.9 322.8 L291.9 322 L295.9 321.3 L299.9 320.5 L303.9 319.8 L307.9 319 L311.9 318.3 L316 317.6 L320 316.9 L324 316.2 L328 315.5 L332 314.8 L336 314.2 L340 313.5 L344 312.8 L348 312.2 L352 311.5 L356 310.9 L360 310.3 L364 309.7 L368 309 L372.1 308.4 L376.1 307.8 L380.1 307.2 L384.1 306.7 L388.1 306.1 L392.1 305.5 L396.1 304.9 L400.1 304.4 L404.1 303.8 L408.1 303.3 L412.1 302.7 L416.1 302.2 L420.1 301.7 L424.2 301.1 L428.2 300.6 L432.2 300.1 L436.2 299.6 L440.2 299.1 L444.2 298.6 L448.2 298.1 L452.2 297.6 L456.2 297.1 L460.2 296.6 L464.2 296.2 L468.2 295.7 L472.2 295.2 L476.3 294.8 L480.3 294.3 L484.3 293.9 L488.3 293.4 L492.3 293 L496.3 292.5 L500.3 292.1 L504.3 291.7 L508.3 291.3 L512.3 290.8 L516.3 290.4 L520.3 290 L524.3 289.6 L528.3 289.2 L532.4 288.8 L536.4 288.5 L540.4 288.1 L544.4 287.7 L548.4 287.3 L552.4 287 L556.4 286.6 L560.4 286.2 L564.4 285.9 L568.4 285.6 L572.4 285.2 L576.4 284.9 L580.4 284.5 L584.5 284.2 L588.5 283.9 L592.5 283.6 L596.5 283.3 L600.5 283 L604.5 282.7 L608.5 282.4 L612.5 282.1 L616.5 281.8 L620.5 281.6 L624.5 281.3 L628.5 281 L632.5 280.8 L636.6 280.5 L640.6 280.3 L644.6 280.1 L648.6 279.8 L652.6 279.6 L656.6 279.4 L660.6 279.2 L664.6 279 L668.6 278.8 L672.6 278.6 L676.6 278.5 L680.6 278.3 L684.6 278.1 L688.6 278 L692.7 277.8 L696.7 277.7 L700.7 277.6 L704.7 277.4 L708.7 277.3 L712.7 277.2 L716.7 277.1 L720.7 277.1 L724.7 277 L728.7 276.9 L732.7 276.9 L736.7 276.8 L740.7 276.8 L744.8 276.8 L748.8 276.8 L752.8 276.8 L756.8 276.8 L760.8 276.8 L764.8 276.8 L768.8 276.9 L772.8 277 L776.8 277 L780.8 277.1 L784.8 277.2 L788.8 277.3 L792.8 277.4 L796.9 277.6 L800.9 277.7 L804.9 277.9 L808.9 278.1 L812.9 278.2 L816.9 278.4 L820.9 278.7 L824.9 278.9 L828.9 279.1 L832.9 279.4 L836.9 279.7 L840.9 280 L844.9 280.3 L848.9 280.6 L853 281 L857 281.3 L861 281.7 L865 282.1 L869 282.5 L873 283 L877 283.4" fill="none" stroke="#000" stroke-width="1.4" />
<path d="M51.5 390.2 L127.6 364" fill="none" stroke="#000" stroke-width="0.7" />
<path d="M127.6 364 L131.6 362.7 L135.6 361.5 L139.6 360.2 L143.6 359 L147.6 357.8 L151.6 356.6 L155.7 355.5 L159.7 354.3 L163.7 353.2 L167.7 352 L171.7 350.9 L175.7 349.8 L179.7 348.7 L183.7 347.7 L187.7 346.6 L191.7 345.6 L195.7 344.5 L199.7 343.5 L203.7 342.5 L207.7 341.5 L211.8 340.6 L215.8 339.6 L219.8 338.6 L223.8 337.7 L227.8 336.8 L231.8 335.8 L235.8 334.9 L239.8 334 L243.8 333.1 L247.8 332.3 L251.8 331.4 L255.8 330.6 L259.8 329.7 L263.9 328.9 L267.9 328.1 L271.9 327.2 L275.9 326.4 L279.9 325.7 L283.9 324.9 L287.9 324.1 L291.9 323.3 L295.9 322.6 L299.9 321.8 L303.9 321.1 L307.9 320.4 L311.9 319.7 L316 318.9 L320 318.2 L324 317.5 L328 316.9 L332 316.2 L336 315.5 L340 314.9 L344 314.2 L348 313.5 L352 312.9 L356 312.3 L360 311.7 L364 311 L368 310.4 L372.1 309.8 L376.1 309.2 L380.1 308.6 L384.1 308.1 L388.1 307.5 L392.1 306.9 L396.1 306.3 L400.1 305.8 L404.1 305.2 L408.1 304.7 L412.1 304.2 L416.1 303.6 L420.1 303.1 L424.2 302.6 L428.2 302.1 L432.2 301.5 L436.2 301 L440.2 300.5 L444.2 300.1 L448.2 299.6 L452.2 299.1 L456.2 298.6 L460.2 298.1 L464.2 297.7 L468.2 297.2 L472.2 296.8 L476.3 296.3 L480.3 295.9 L484.3 295.4 L488.3 295 L492.3 294.6 L496.3 294.1 L500.3 293.7 L504.3 293.3 L508.3 292.9 L512.3 292.5 L516.3 292.1 L520.3 291.7 L524.3 291.3 L528.3 290.9 L532.4 290.6 L536.4 290.2 L540.4 289.8 L544.4 289.4 L548.4 289.1 L552.4 288.7 L556.4 288.4 L560.4 288 L564.4 287.7 L568.4 287.4 L572.4 287 L576.4 286.7 L580.4 286.4 L584.5 286.1 L588.5 285.8 L592.5 285.4 L596.5 285.1 L600.5 284.8 L604.5 284.6 L608.5 284.3 L612.5 284 L616.5 283.7 L620.5 283.4 L624.5 283.2 L628.5 282.9 L632.5 282.7 L636.6 282.4 L640.6 282.2 L644.6 281.9 L648.6 281.7 L652.6 281.5 L656.6 281.3 L660.6 281 L664.6 280.8 L668.6 280.6 L672.6 280.4 L676.6 280.2 L680.6 280 L684.6 279.9 L688.6 279.7 L692.7 279.5 L696.7 279.4 L700.7 279.2 L704.7 279.1 L708.7 278.9 L712.7 278.8 L716.7 278.6 L720.7 278.5 L724.7 278.4 L728.7 278.3 L732.7 278.2 L736.7 278.1 L740.7 278 L744.8 277.9 L748.8 277.9 L752.8 277.8 L756.8 277.7 L760.8 277.7 L764.8 277.7 L768.8 277.6 L772.8 277.6 L776.8 277.6 L780.8 277.6 L784.8 277.6 L788.8 277.6 L792.8 277.6 L796.9 277.6 L800.9 277.7 L804.9 277.7 L808.9 277.8 L812.9 277.8 L816.9 277.9 L820.9 278 L824.9 278.1 L828.9 278.2 L832.9 278.3 L836.9 278.4 L840.9 278.6 L844.9 278.7 L848.9 278.9 L853 279 L857 279.2 L861 279.4 L865 279.6 L869 279.8 L873 280.1 L877 280.3" fill="none" stroke="#000" stroke-width="0.9" />
<path d="M51.5 390.2 L127.6 364.1" fill="none" stroke="#000" stroke-width="0.7" />
<path d="M127.6 364.1 L131.6 362.9 L135.6 361.7 L139.6 360.6 L143.6 359.4 L147.6 358.3 L151.6 357.2 L155.7 356.1 L159.7 355 L163.7 353.9 L167.7 352.8 L171.7 351.8 L175.7 350.7 L179.7 349.7 L183.7 348.7 L187.7 347.6 L191.7 346.6 L195.7 345.6 L199.7 344.7 L203.7 343.7 L207.7 342.7 L211.8 341.8 L215.8 340.9 L219.8 339.9 L223.8 339 L227.8 338.1 L231.8 337.2 L235.8 336.3 L239.8 335.5 L243.8 334.6 L247.8 333.7 L251.8 332.9 L255.8 332.1 L259.8 331.2 L263.9 330.4 L267.9 329.6 L271.9 328.8 L275.9 328 L279.9 327.2 L283.9 326.4 L287.9 325.7 L291.9 324.9 L295.9 324.2 L299.9 323.4 L303.9 322.7 L307.9 322 L311.9 321.3 L316 320.6 L320 319.9 L324 319.2 L328 318.5 L332 317.8 L336 317.2 L340 316.5 L344 315.8 L348 315.2 L352 314.6 L356 313.9 L360 313.3 L364 312.7 L368 312.1 L372.1 311.5 L376.1 310.9 L380.1 310.3 L384.1 309.7 L388.1 309.2 L392.1 308.6 L396.1 308.1 L400.1 307.5 L404.1 307 L408.1 306.4 L412.1 305.9 L416.1 305.4 L420.1 304.9 L424.2 304.4 L428.2 303.8 L432.2 303.4 L436.2 302.9 L440.2 302.4 L444.2 301.9 L448.2 301.4 L452.2 301 L456.2 300.5 L460.2 300.1 L464.2 299.6 L468.2 299.2 L472.2 298.7 L476.3 298.3 L480.3 297.9 L484.3 297.5 L488.3 297.1 L492.3 296.7 L496.3 296.3 L500.3 295.9 L504.3 295.5 L508.3 295.1 L512.3 294.7 L516.3 294.4 L520.3 294 L524.3 293.7 L528.3 293.3 L532.4 293 L536.4 292.6 L540.4 292.3 L544.4 292 L548.4 291.7 L552.4 291.4 L556.4 291.1 L560.4 290.8 L564.4 290.5 L568.4 290.2 L572.4 289.9 L576.4 289.6 L580.4 289.3 L584.5 289.1 L588.5 288.8 L592.5 288.6 L596.5 288.3 L600.5 288.1 L604.5 287.9 L608.5 287.6 L612.5 287.4 L616.5 287.2 L620.5 287 L624.5 286.8 L628.5 286.6 L632.5 286.4 L636.6 286.2 L640.6 286.1 L644.6 285.9 L648.6 285.7 L652.6 285.6 L656.6 285.4 L660.6 285.3 L664.6 285.1 L668.6 285 L672.6 284.9 L676.6 284.8 L680.6 284.7 L684.6 284.6 L688.6 284.5 L692.7 284.4 L696.7 284.3 L700.7 284.2 L704.7 284.2 L708.7 284.1 L712.7 284 L716.7 284 L720.7 284 L724.7 283.9 L728.7 283.9 L732.7 283.9 L736.7 283.9 L740.7 283.9 L744.8 283.9 L748.8 283.9 L752.8 283.9 L756.8 284 L760.8 284 L764.8 284 L768.8 284.1 L772.8 284.2 L776.8 284.2 L780.8 284.3 L784.8 284.4 L788.8 284.5 L792.8 284.6 L796.9 284.7 L800.9 284.9 L804.9 285 L808.9 285.1 L812.9 285.3 L816.9 285.4 L820.9 285.6 L824.9 285.8 L828.9 286 L832.9 286.2 L836.9 286.4 L840.9 286.6 L844.9 286.8 L848.9 287.1 L853 287.3 L857 287.6 L861 287.8 L865 288.1 L869 288.4 L873 288.7 L877 289" fill="none" stroke="#000" stroke-width="3.5" />
<path d="M51.5 390.2 L127.6 365.1" fill="none" stroke="#000" stroke-width="0.7" />
<path d="M127.6 365.1 L131.6 364 L135.6 362.9 L139.6 361.8 L143.6 360.7 L147.6 359.7 L151.6 358.7 L155.7 357.6 L159.7 356.6 L163.7 355.6 L167.7 354.6 L171.7 353.7 L175.7 352.7 L179.7 351.7 L183.7 350.8 L187.7 349.9 L191.7 348.9 L195.7 348 L199.7 347.1 L203.7 346.2 L207.7 345.3 L211.8 344.5 L215.8 343.6 L219.8 342.8 L223.8 341.9 L227.8 341.1 L231.8 340.3 L235.8 339.4 L239.8 338.6 L243.8 337.8 L247.8 337.1 L251.8 336.3 L255.8 335.5 L259.8 334.7 L263.9 334 L267.9 333.2 L271.9 332.5 L275.9 331.8 L279.9 331 L283.9 330.3 L287.9 329.6 L291.9 328.9 L295.9 328.2 L299.9 327.5 L303.9 326.8 L307.9 326.2 L311.9 325.5 L316 324.8 L320 324.2 L324 323.5 L328 322.9 L332 322.2 L336 321.6 L340 321 L344 320.4 L348 319.8 L352 319.1 L356 318.5 L360 317.9 L364 317.4 L368 316.8 L372.1 316.2 L376.1 315.6 L380.1 315 L384.1 314.5 L388.1 313.9 L392.1 313.4 L396.1 312.8 L400.1 312.3 L404.1 311.7 L408.1 311.2 L412.1 310.7 L416.1 310.2 L420.1 309.6 L424.2 309.1 L428.2 308.6 L432.2 308.1 L436.2 307.6 L440.2 307.1 L444.2 306.6 L448.2 306.1 L452.2 305.7 L456.2 305.2 L460.2 304.7 L464.2 304.2 L468.2 303.8 L472.2 303.3 L476.3 302.9 L480.3 302.4 L484.3 302 L488.3 301.5 L492.3 301.1 L496.3 300.7 L500.3 300.3 L504.3 299.8 L508.3 299.4 L512.3 299 L516.3 298.6 L520.3 298.2 L524.3 297.8 L528.3 297.4 L532.4 297 L536.4 296.6 L540.4 296.3 L544.4 295.9 L548.4 295.5 L552.4 295.2 L556.4 294.8 L560.4 294.5 L564.4 294.1 L568.4 293.8 L572.4 293.4 L576.4 293.1 L580.4 292.8 L584.5 292.5 L588.5 292.1 L592.5 291.8 L596.5 291.5 L600.5 291.2 L604.5 290.9 L608.5 290.7 L612.5 290.4 L616.5 290.1 L620.5 289.8 L624.5 289.6 L628.5 289.3 L632.5 289.1 L636.6 288.8 L640.6 288.6 L644.6 288.4 L648.6 288.1 L652.6 287.9 L656.6 287.7 L660.6 287.5 L664.6 287.3 L668.6 287.1 L672.6 287 L676.6 286.8 L680.6 286.6 L684.6 286.5 L688.6 286.3 L692.7 286.2 L696.7 286 L700.7 285.9 L704.7 285.8 L708.7 285.7 L712.7 285.6 L716.7 285.5 L720.7 285.4 L724.7 285.4 L728.7 285.3 L732.7 285.3 L736.7 285.2 L740.7 285.2 L744.8 285.2 L748.8 285.1 L752.8 285.1 L756.8 285.2 L760.8 285.2 L764.8 285.2 L768.8 285.2 L772.8 285.3 L776.8 285.4 L780.8 285.4 L784.8 285.5 L788.8 285.6 L792.8 285.7 L796.9 285.9 L800.9 286 L804.9 286.1 L808.9 286.3 L812.9 286.5 L816.9 286.7 L820.9 286.9 L824.9 287.1 L828.9 287.3 L832.9 287.5 L836.9 287.8 L840.9 288.1 L844.9 288.4 L848.9 288.7 L853 289 L857 289.3 L861 289.7 L865 290 L869 290.4 L873 290.8 L877 291.2" fill="none" stroke="#000" stroke-width="2.1" />
<path d="M51.5 390.2 L73.9 373.6" fill="none" stroke="#000" stroke-width="0.7" />
<path d="M51.2 390.4 L57.3 390.4 L63.3 390.3 L69.3 390.3 L75.3 390.2 L81.3 390 L87.4 389.9 L93.4 389.7 L99.4 389.4 L105.4 389.2 L111.4 388.9 L117.5 388.6 L123.5 388.2 L129.5 387.8 L135.5 387.4 L141.5 387 L147.6 386.5 L153.6 386 L159.6 385.5 L165.6 384.9 L171.6 384.3 L177.6 383.7 L183.7 383.1 L189.7 382.4 L195.7 381.7 L201.7 380.9 L207.7 380.1 L213.8 379.3 L219.8 378.5 L225.8 377.6 L231.8 376.7 L237.8 375.8 L243.9 374.9 L249.9 373.9 L255.9 372.8 L261.9 371.8 L267.9 370.7 L273.9 369.6 L280 368.5 L286 367.3 L292 366.1 L298 364.9 L304 363.6 L310.1 362.3 L316.1 361 L322.1 359.7 L328.1 358.3 L334.1 356.9 L340.2 355.4 L346.2 353.9 L352.2 352.4 L358.2 350.9 L364.2 349.3 L370.3 347.8 L376.3 346.1 L382.3 344.5 L388.3 342.8 L394.3 341.1 L400.3 339.3 L406.4 337.5 L412.4 335.7 L418.4 333.9 L424.4 332 L430.4 330.1 L436.5 328.2 L442.5 326.3 L448.5 324.3 L454.5 322.2 L460.5 320.2 L466.6 318.1 L472.6 316 L478.6 313.9 L484.6 311.7 L490.6 309.5 L496.6 307.3 L502.7 305 L508.7 302.7 L514.7 300.4 L520.7 298 L526.7 295.6 L532.8 293.2 L538.8 290.8 L544.8 288.3 L550.8 285.8 L556.8 283.3 L562.9 280.7 L568.9 278.1 L574.9 275.5 L580.9 272.8 L586.9 270.1 L593 267.4 L599 264.7 L605 261.9 L611 259.1 L617 256.2 L623 253.4 L629.1 250.5 L635.1 247.5 L641.1 244.6 L647.1 241.6 L653.1 238.6 L659.2 235.5 L665.2 232.4 L671.2 229.3 L677.2 226.2 L683.2 223 L689.3 219.8 L695.3 216.6 L701.3 213.3 L707.3 210 L713.3 206.7 L719.3 203.3 L725.4 200 L731.4 196.5 L737.4 193.1 L743.4 189.6 L749.4 186.1 L755.5 182.6 L761.5 179 L767.5 175.4" fill="none" stroke="#ff2a2a" stroke-width="0.9" />
<line x1="767.5" y1="175.4" x2="767.5" y2="390.4" stroke="#000" stroke-width="1.3" />
<circle cx="767.5" cy="175.4" r="6.7" fill="#ffff00" stroke="#ff0000" stroke-width="1.5"/>
<line x1="760.5" y1="175.4" x2="767.5" y2="175.4" stroke="#555" stroke-width="1" />
<line x1="760.8" y1="179.6" x2="767.5" y2="175.4" stroke="#ff3a3a" stroke-width="0.8" />
<line x1="767.5" y1="175.4" x2="767.5" y2="183" stroke="#000" stroke-width="1.3" />
<circle cx="767.5" cy="276.2" r="6.4" fill="#ff0000"/>
<circle cx="767.5" cy="284.5" r="6.4" fill="#ff0000"/>
<text x="750.3" y="553" fill="#134f8f" textLength="197.5" lengthAdjust="spacing" >P1 (motor+freq.converter)</text>
<text x="864.7" y="587.8" fill="#134f8f"  >P2</text>
<path d="M51.5 617.3 L132.8 610.5" fill="none" stroke="#3d66a0" stroke-width="1" />
<path d="M132.8 610.5 L240 599.7 L609.8 563.4 L877 563.4" fill="none" stroke="#0f4c8a" stroke-width="2.4" stroke-linejoin="round"/>
<path d="M51.5 622.4 L240 606.4 L609.8 572.6 L877 572.6" fill="none" stroke="#5d80b0" stroke-width="1" />
<path d="M51.5 634.5 L126.9 629" fill="none" stroke="#3d66a0" stroke-width="1.2" />
<path d="M126.9 629 L129.9 628.8 L132.9 628.5 L135.9 628.3 L138.9 628 L141.9 627.8 L144.9 627.6 L147.9 627.3 L150.9 627.1 L153.9 626.9 L156.9 626.6 L159.9 626.4 L162.9 626.1 L165.9 625.9 L168.9 625.7 L171.9 625.4 L174.9 625.2 L177.9 625 L180.9 624.7 L183.9 624.5 L186.9 624.2 L189.9 624 L192.9 623.8 L195.9 623.5 L198.9 623.3 L201.9 623 L204.9 622.8 L207.9 622.6 L210.9 622.3 L213.9 622.1 L216.9 621.8 L219.9 621.6 L222.9 621.4 L225.9 621.1 L228.9 620.9 L231.9 620.6 L234.9 620.4 L237.9 620.2 L240.9 619.9 L243.9 619.7 L246.9 619.4 L249.9 619.2 L252.9 619 L255.9 618.7 L258.9 618.5 L261.9 618.2 L264.9 618 L267.9 617.8 L270.9 617.5 L273.9 617.3 L276.9 617 L279.9 616.8 L282.9 616.5 L285.9 616.3 L288.9 616.1 L291.9 615.8 L294.9 615.6 L297.9 615.3 L300.9 615.1 L303.9 614.8 L306.9 614.6 L309.9 614.3 L312.9 614.1 L315.9 613.9 L318.9 613.6 L321.9 613.4 L324.9 613.1 L327.9 612.9 L330.9 612.6 L333.9 612.4 L336.9 612.1 L339.9 611.9 L342.9 611.6 L345.9 611.4 L348.9 611.1 L351.9 610.9 L354.9 610.6 L357.9 610.4 L360.9 610.1 L363.9 609.9 L366.9 609.6 L369.9 609.4 L372.9 609.1 L375.9 608.9 L378.9 608.6 L381.9 608.3 L384.9 608.1 L387.9 607.8 L390.9 607.6 L393.9 607.3 L396.9 607.1 L399.9 606.8 L402.9 606.5 L405.9 606.3 L408.9 606 L411.9 605.8 L414.9 605.5 L417.9 605.2 L420.9 605 L423.9 604.7 L426.9 604.5 L429.9 604.2 L432.9 603.9 L435.9 603.7 L438.9 603.4 L441.9 603.1 L444.9 602.9 L447.9 602.6 L450.9 602.4 L453.9 602.1 L456.9 601.8 L459.9 601.6 L462.9 601.3 L465.9 601.1 L468.9 600.8 L471.9 600.5 L474.9 600.3 L477.9 600 L480.9 599.8 L483.9 599.5 L486.9 599.3 L489.9 599 L492.9 598.7 L495.9 598.5 L498.9 598.2 L502 598 L505 597.7 L508 597.5 L511 597.2 L514 597 L517 596.7 L520 596.5 L523 596.3 L526 596 L529 595.8 L532 595.5 L535 595.3 L538 595.1 L541 594.8 L544 594.6 L547 594.4 L550 594.1 L553 593.9 L556 593.7 L559 593.5 L562 593.3 L565 593 L568 592.8 L571 592.6 L574 592.4 L577 592.2 L580 592 L583 591.8 L586 591.6 L589 591.3 L592 591.1 L595 590.9 L598 590.7 L601 590.5 L604 590.3 L607 590.1 L610 589.9 L613 589.7 L616 589.5 L619 589.3 L622 589.1 L625 588.9 L628 588.7 L631 588.5 L634 588.3 L637 588.1 L640 587.9 L643 587.7 L646 587.5 L649 587.3 L652 587.1 L655 586.9 L658 586.7 L661 586.5 L664 586.3 L667 586.1 L670 585.9 L673 585.7 L676 585.5 L679 585.3 L682 585.1 L685 584.9 L688 584.7 L691 584.5 L694 584.3 L697 584.1 L700 583.9 L703 583.7 L706 583.5 L709 583.3 L712 583.1 L715 582.9 L718 582.7 L721 582.5 L724 582.3 L727 582.1 L730 581.9 L733 581.7 L736 581.5 L739 581.3 L742 581.1 L745 580.9 L748 580.7 L751 580.5 L754 580.3 L757 580.1 L760 579.9 L763 579.7 L766 579.5 L769 579.3 L772 579.1 L775 578.9 L778 578.7 L781 578.5 L784 578.3 L787 578.1 L790 577.9 L793 577.7 L796 577.5 L799 577.3 L802 577.1 L805 576.9 L808 576.7 L811 576.5 L814 576.3 L817 576.1 L820 575.9 L823 575.7 L826 575.5 L829 575.3 L832 575.1 L835 574.9 L838 574.8 L841 574.6 L844 574.4 L847 574.2 L850 574 L853 573.8 L856 573.6 L859 573.4 L862 573.2 L865 573 L868 572.8 L871 572.6 L874 572.4 L877 572.2" fill="none" stroke="#0f4c8a" stroke-width="3.6" stroke-linecap="round"/>
<path d="M51.5 638.2 L126.9 633.4" fill="none" stroke="#3d66a0" stroke-width="1.2" />
<path d="M126.9 633.4 L129.9 633.2 L132.9 633 L135.9 632.7 L138.9 632.5 L141.9 632.3 L144.9 632.1 L147.9 631.9 L150.9 631.6 L153.9 631.4 L156.9 631.2 L159.9 631 L162.9 630.7 L165.9 630.5 L168.9 630.3 L171.9 630.1 L174.9 629.9 L177.9 629.6 L180.9 629.4 L183.9 629.2 L186.9 629 L189.9 628.7 L192.9 628.5 L195.9 628.3 L198.9 628.1 L201.9 627.9 L204.9 627.6 L207.9 627.4 L210.9 627.2 L213.9 627 L216.9 626.7 L219.9 626.5 L222.9 626.3 L225.9 626.1 L228.9 625.8 L231.9 625.6 L234.9 625.4 L237.9 625.2 L240.9 624.9 L243.9 624.7 L246.9 624.5 L249.9 624.2 L252.9 624 L255.9 623.8 L258.9 623.6 L261.9 623.3 L264.9 623.1 L267.9 622.9 L270.9 622.6 L273.9 622.4 L276.9 622.2 L279.9 622 L282.9 621.7 L285.9 621.5 L288.9 621.3 L291.9 621 L294.9 620.8 L297.9 620.6 L300.9 620.3 L303.9 620.1 L306.9 619.9 L309.9 619.6 L312.9 619.4 L315.9 619.2 L318.9 618.9 L321.9 618.7 L324.9 618.5 L327.9 618.2 L330.9 618 L333.9 617.8 L336.9 617.5 L339.9 617.3 L342.9 617.1 L345.9 616.8 L348.9 616.6 L351.9 616.4 L354.9 616.1 L357.9 615.9 L360.9 615.7 L363.9 615.4 L366.9 615.2 L369.9 615 L372.9 614.7 L375.9 614.5 L378.9 614.3 L381.9 614 L384.9 613.8 L387.9 613.5 L390.9 613.3 L393.9 613.1 L396.9 612.8 L399.9 612.6 L402.9 612.4 L405.9 612.1 L408.9 611.9 L411.9 611.7 L414.9 611.4 L417.9 611.2 L420.9 611 L423.9 610.7 L426.9 610.5 L429.9 610.2 L432.9 610 L435.9 609.8 L438.9 609.5 L441.9 609.3 L444.9 609.1 L447.9 608.8 L450.9 608.6 L453.9 608.4 L456.9 608.1 L459.9 607.9 L462.9 607.7 L465.9 607.4 L468.9 607.2 L471.9 607 L474.9 606.7 L477.9 606.5 L480.9 606.3 L483.9 606 L486.9 605.8 L489.9 605.6 L492.9 605.4 L495.9 605.1 L498.9 604.9 L502 604.7 L505 604.4 L508 604.2 L511 604 L514 603.8 L517 603.5 L520 603.3 L523 603.1 L526 602.9 L529 602.6 L532 602.4 L535 602.2 L538 602 L541 601.8 L544 601.6 L547 601.3 L550 601.1 L553 600.9 L556 600.7 L559 600.5 L562 600.3 L565 600 L568 599.8 L571 599.6 L574 599.4 L577 599.2 L580 599 L583 598.8 L586 598.6 L589 598.4 L592 598.2 L595 598 L598 597.8 L601 597.6 L604 597.4 L607 597.2 L610 597 L613 596.8 L616 596.6 L619 596.4 L622 596.2 L625 596 L628 595.8 L631 595.6 L634 595.5 L637 595.3 L640 595.1 L643 594.9 L646 594.7 L649 594.5 L652 594.3 L655 594.2 L658 594 L661 593.8 L664 593.6 L667 593.4 L670 593.3 L673 593.1 L676 592.9 L679 592.7 L682 592.5 L685 592.4 L688 592.2 L691 592 L694 591.8 L697 591.7 L700 591.5 L703 591.3 L706 591.1 L709 591 L712 590.8 L715 590.6 L718 590.4 L721 590.3 L724 590.1 L727 589.9 L730 589.7 L733 589.6 L736 589.4 L739 589.2 L742 589 L745 588.9 L748 588.7 L751 588.5 L754 588.3 L757 588.1 L760 588 L763 587.8 L766 587.6 L769 587.4 L772 587.2 L775 587 L778 586.9 L781 586.7 L784 586.5 L787 586.3 L790 586.1 L793 585.9 L796 585.7 L799 585.5 L802 585.4 L805 585.2 L808 585 L811 584.8 L814 584.6 L817 584.4 L820 584.2 L823 584 L826 583.8 L829 583.6 L832 583.4 L835 583.2 L838 583 L841 582.9 L844 582.7 L847 582.5 L850 582.3 L853 582.1 L856 581.9 L859 581.7 L862 581.5 L865 581.3 L868 581.1 L871 580.9 L874 580.7 L877 580.5" fill="none" stroke="#0f4c8a" stroke-width="2.4" />
<path d="M51.5 685.8 L73 685.8" fill="none" stroke="#3d66a0" stroke-width="1.2" />
<path d="M73 685.8 L127 685.8 L322 684.6" fill="none" stroke="#0f4c8a" stroke-width="2.2" />
<path d="M51.5 683.7 L127.5 683.7" fill="none" stroke="#000" stroke-width="1" />
<path d="M73 688.3 L77 688.3 L81 688.3 L85 688.3 L89.1 688.3 L93.1 688.3 L97.1 688.3 L101.1 688.2 L105.1 688.2 L109.1 688.2 L113.2 688.2 L117.2 688.2 L121.2 688.1 L125.2 688.1 L129.2 688.1 L133.2 688 L137.3 688 L141.3 688 L145.3 688 L149.3 687.9 L153.3 687.9 L157.3 687.8 L161.4 687.7 L165.4 687.7 L169.4 687.6 L173.4 687.5 L177.4 687.4 L181.4 687.3 L185.5 687.2 L189.5 687.2 L193.5 687.1 L197.5 687 L201.5 686.9 L205.5 686.9 L209.5 686.8 L213.6 686.7 L217.6 686.7 L221.6 686.6 L225.6 686.6 L229.6 686.5 L233.6 686.4 L237.7 686.4 L241.7 686.3 L245.7 686.2 L249.7 686.2 L253.7 686.1 L257.7 686 L261.8 685.8 L265.8 685.7 L269.8 685.5 L273.8 685.3 L277.8 685.1 L281.8 684.9 L285.9 684.6 L289.9 684.3 L293.9 684 L297.9 683.6 L301.9 683.2 L305.9 682.6 L310 681.9 L314 681.2 L318 680.3 L322 679.4" fill="none" stroke="#000" stroke-width="2.4" />
<path d="M127 685.6 L130 685.6 L133 685.5 L136 685.5 L139 685.5 L142 685.5 L145 685.4 L148 685.4 L151 685.4 L154 685.3 L157 685.3 L160 685.3 L163 685.3 L166 685.2 L169 685.2 L172 685.2 L175 685.1 L178 685.1 L181 685.1 L184 685 L187 685 L190 685 L193 684.9 L196 684.9 L199 684.9 L202 684.8 L205 684.8 L208 684.7 L211 684.7 L214 684.7 L217 684.6 L220 684.6 L223 684.5 L226 684.5 L229 684.5 L232 684.4 L235 684.4 L238 684.3 L241 684.3 L244 684.2 L247 684.2 L250 684.2 L253 684.1 L256 684.1 L259 684 L262 684 L265 683.9 L268 683.9 L271 683.8 L274 683.8 L277 683.7 L280 683.7 L283 683.6 L286 683.6 L289 683.5 L292 683.4 L295 683.4 L298 683.3 L301 683.3 L304 683.2 L307 683.2 L310 683.1 L313 683.1 L316 683 L319 683 L322 682.9 L325 682.8 L328 682.8 L331 682.7 L334 682.7 L337 682.6 L340 682.6 L343 682.5 L346 682.4 L349 682.4 L352 682.3 L355 682.3 L358 682.2 L361 682.2 L364 682.1 L367 682 L370 682 L373 681.9 L376 681.9 L379 681.8 L382 681.7 L385 681.7 L388 681.6 L391 681.6 L394 681.5 L397 681.5 L400 681.4 L403 681.3 L406 681.3 L409 681.2 L412 681.2 L415 681.1 L418 681.1 L421 681 L424 680.9 L427 680.9 L430 680.8 L433 680.8 L436 680.7 L439 680.7 L442 680.6 L445 680.6 L448 680.5 L451 680.5 L454 680.4 L457 680.3 L460 680.3 L463 680.2 L466 680.2 L469 680.1 L472 680.1 L475 680 L478 680 L481 679.9 L484 679.8 L487 679.8 L490 679.7 L493 679.7 L496 679.6 L499 679.6 L502 679.5 L505 679.5 L508 679.4 L511 679.4 L514 679.3 L517 679.2 L520 679.2 L523 679.1 L526 679.1 L529 679 L532 679 L535 678.9 L538 678.9 L541 678.8 L544 678.7 L547 678.7 L550 678.6 L553 678.6 L556 678.5 L559 678.5 L562 678.4 L565 678.3 L568 678.3 L571 678.2 L574 678.2 L577 678.1 L580 678 L583 678 L586 677.9 L589 677.8 L592 677.8 L595 677.7 L598 677.6 L601 677.6 L604 677.5 L607 677.4 L610 677.4 L613 677.3 L616 677.2 L619 677.2 L622 677.1 L625 677 L628 677 L631 676.9 L634 676.8 L637 676.8 L640 676.7 L643 676.6 L646 676.6 L649 676.5 L652 676.4 L655 676.4 L658 676.3 L661 676.3 L664 676.2 L667 676.1 L670 676.1 L673 676 L676 676 L679 675.9 L682 675.9 L685 675.9 L688 675.8 L691 675.8 L694 675.8 L697 675.7 L700 675.7 L703 675.7 L706 675.7 L709 675.6 L712 675.6 L715 675.6 L718 675.6 L721 675.6 L724 675.5 L727 675.5 L730 675.4 L733 675.4 L736 675.3 L739 675.3 L742 675.2 L745 675.1 L748 675 L751 674.9 L754 674.8 L757 674.6 L760 674.5 L763 674.3 L766 674.1 L769 673.9 L772 673.7 L775 673.4 L778 673.1 L781 672.8 L784 672.5 L787 672.1 L790 671.8 L793 671.4 L796 671 L799 670.5 L802 670 L805 669.5 L808 669 L811 668.5 L814 667.9 L817 667.3 L820 666.6 L823 665.9 L826 665.2 L829 664.4 L832 663.5 L835 662.6 L838 661.5 L841 660.4 L844 659.2 L847 657.9 L850 656.4 L853 654.9 L856 653.3 L859 651.6 L862 649.9 L865 648.1 L868 646.2 L871 644.3 L874 642.4 L877 640.5" fill="none" stroke="#000" stroke-width="3.8" stroke-linecap="round"/>
<path d="M700 675.9 L703 675.9 L706 675.8 L709 675.8 L712 675.8 L715 675.7 L718 675.7 L721 675.7 L724 675.6 L727 675.6 L730 675.5 L733 675.5 L736 675.4 L739 675.3 L742 675.3 L745 675.2 L748 675.1 L751 675 L754 674.9 L757 674.8 L760 674.7 L763 674.6 L766 674.5 L769 674.3 L772 674.2 L775 674 L778 673.9 L781 673.7 L784 673.5 L787 673.3 L790 673 L793 672.8 L796 672.5 L799 672.2 L802 671.9 L805 671.6 L808 671.2 L811 670.8 L814 670.4 L817 669.9 L820 669.5 L823 669 L826 668.4 L829 667.8 L832 667.2 L835 666.5 L838 665.8 L841 665 L844 664.1 L847 663.2 L850 662.3 L853 661.3 L856 660.2 L859 659.1 L862 657.9 L865 656.7 L868 655.5 L871 654.3 L874 653 L877 651.8" fill="none" stroke="#000" stroke-width="2.0" stroke-linecap="round"/>
<circle cx="767.5" cy="579.3" r="6.4" fill="#ff0000"/>
<circle cx="767.5" cy="587.6" r="6.4" fill="#ff0000"/>
<circle cx="767.5" cy="674.0" r="6.4" fill="#ff0000"/>
<line x1="51.4" y1="0" x2="51.4" y2="397.4" stroke="#000" stroke-width="1.7" />
<line x1="959" y1="0" x2="959" y2="391.2" stroke="#000" stroke-width="1.8" />
<line x1="44" y1="390.5" x2="966.3" y2="390.5" stroke="#000" stroke-width="1.6" />
<text x="38.3" y="395.2" text-anchor="end" fill="#000">0</text>
<line x1="44" y1="364.4" x2="51.2" y2="364.4" stroke="#000" stroke-width="1.5" />
<text x="38.4" y="369.2" text-anchor="end" fill="#000">5</text>
<line x1="44" y1="338.4" x2="51.2" y2="338.4" stroke="#000" stroke-width="1.5" />
<text x="38.3" y="343.2" text-anchor="end" fill="#000">10</text>
<line x1="44" y1="312.4" x2="51.2" y2="312.4" stroke="#000" stroke-width="1.5" />
<text x="38.4" y="317.2" text-anchor="end" fill="#000">15</text>
<line x1="44" y1="286.4" x2="51.2" y2="286.4" stroke="#000" stroke-width="1.5" />
<text x="38.3" y="291.2" text-anchor="end" fill="#000">20</text>
<line x1="44" y1="260.4" x2="51.2" y2="260.4" stroke="#000" stroke-width="1.5" />
<text x="38.4" y="265.2" text-anchor="end" fill="#000">25</text>
<line x1="44" y1="234.4" x2="51.2" y2="234.4" stroke="#000" stroke-width="1.5" />
<text x="38.3" y="239.2" text-anchor="end" fill="#000">30</text>
<line x1="44" y1="208.4" x2="51.2" y2="208.4" stroke="#000" stroke-width="1.5" />
<text x="38.4" y="213.2" text-anchor="end" fill="#000">35</text>
<line x1="44" y1="182.4" x2="51.2" y2="182.4" stroke="#000" stroke-width="1.5" />
<text x="38.3" y="187.2" text-anchor="end" fill="#000">40</text>
<line x1="44" y1="156.4" x2="51.2" y2="156.4" stroke="#000" stroke-width="1.5" />
<text x="38.4" y="161.2" text-anchor="end" fill="#000">45</text>
<line x1="44" y1="130.4" x2="51.2" y2="130.4" stroke="#000" stroke-width="1.5" />
<text x="38.3" y="135.2" text-anchor="end" fill="#000">50</text>
<line x1="44" y1="104.4" x2="51.2" y2="104.4" stroke="#000" stroke-width="1.5" />
<text x="38.4" y="109.2" text-anchor="end" fill="#000">55</text>
<line x1="44" y1="78.4" x2="51.2" y2="78.4" stroke="#000" stroke-width="1.5" />
<text x="38.3" y="83.2" text-anchor="end" fill="#000">60</text>
<line x1="44" y1="52.4" x2="51.2" y2="52.4" stroke="#000" stroke-width="1.5" />
<text x="971.1" y="395.2" fill="#000">0</text>
<line x1="959" y1="364.4" x2="966.3" y2="364.4" stroke="#000" stroke-width="1.5" />
<text x="970.5" y="369.2" fill="#000">10</text>
<line x1="959" y1="338.4" x2="966.3" y2="338.4" stroke="#000" stroke-width="1.5" />
<text x="970.9" y="343.2" fill="#000">20</text>
<line x1="959" y1="312.4" x2="966.3" y2="312.4" stroke="#000" stroke-width="1.5" />
<text x="971.1" y="317.2" fill="#000">30</text>
<line x1="959" y1="286.4" x2="966.3" y2="286.4" stroke="#000" stroke-width="1.5" />
<text x="971.3" y="291.2" fill="#000">40</text>
<line x1="959" y1="260.4" x2="966.3" y2="260.4" stroke="#000" stroke-width="1.5" />
<text x="971.1" y="265.2" fill="#000">50</text>
<line x1="959" y1="234.4" x2="966.3" y2="234.4" stroke="#000" stroke-width="1.5" />
<text x="970.9" y="239.2" fill="#000">60</text>
<line x1="959" y1="208.4" x2="966.3" y2="208.4" stroke="#000" stroke-width="1.5" />
<text x="970.9" y="213.2" fill="#000">70</text>
<line x1="959" y1="182.4" x2="966.3" y2="182.4" stroke="#000" stroke-width="1.5" />
<text x="971" y="187.2" fill="#000">80</text>
<line x1="51.2" y1="390.4" x2="51.2" y2="397.4" stroke="#000" stroke-width="1.5" />
<text x="51" y="412.8" text-anchor="middle" fill="#000" >0</text>
<line x1="127.5" y1="390.4" x2="127.5" y2="397.4" stroke="#000" stroke-width="1.5" />
<text x="127.2" y="412.8" text-anchor="middle" fill="#000" >2</text>
<line x1="203.8" y1="390.4" x2="203.8" y2="397.4" stroke="#000" stroke-width="1.5" />
<text x="203.4" y="412.8" text-anchor="middle" fill="#000" >4</text>
<line x1="280" y1="390.4" x2="280" y2="397.4" stroke="#000" stroke-width="1.5" />
<text x="279.7" y="412.8" text-anchor="middle" fill="#000" >6</text>
<line x1="356.2" y1="390.4" x2="356.2" y2="397.4" stroke="#000" stroke-width="1.5" />
<text x="355.9" y="412.8" text-anchor="middle" fill="#000" >8</text>
<line x1="432.5" y1="390.4" x2="432.5" y2="397.4" stroke="#000" stroke-width="1.5" />
<text x="432.2" y="412.8" text-anchor="middle" fill="#000" >10</text>
<line x1="508.8" y1="390.4" x2="508.8" y2="397.4" stroke="#000" stroke-width="1.5" />
<text x="508.4" y="412.8" text-anchor="middle" fill="#000" >12</text>
<line x1="585" y1="390.4" x2="585" y2="397.4" stroke="#000" stroke-width="1.5" />
<text x="584.7" y="412.8" text-anchor="middle" fill="#000" >14</text>
<line x1="661.2" y1="390.4" x2="661.2" y2="397.4" stroke="#000" stroke-width="1.5" />
<text x="661" y="412.8" text-anchor="middle" fill="#000" >16</text>
<line x1="737.5" y1="390.4" x2="737.5" y2="397.4" stroke="#000" stroke-width="1.5" />
<text x="737.2" y="412.8" text-anchor="middle" fill="#000" >18</text>
<line x1="813.8" y1="390.4" x2="813.8" y2="397.4" stroke="#000" stroke-width="1.5" />
<text x="813.5" y="412.8" text-anchor="middle" fill="#000" >20</text>
<line x1="890" y1="390.4" x2="890" y2="397.4" stroke="#000" stroke-width="1.5" />
<text x="887.5" y="413" fill="#000" textLength="63.1" lengthAdjust="spacing" >Q [m³/h]</text>
<text x="24.3" y="14.7" fill="#000"  >H</text>
<text x="18.1" y="34.8" fill="#000" textLength="24.7" lengthAdjust="spacing" >[m]</text>
<text x="967" y="14.7" fill="#000" textLength="23" lengthAdjust="spacing" >eta</text>
<text x="965.9" y="34.8" fill="#000" textLength="26" lengthAdjust="spacing" >[%]</text>
<rect x="741.6" y="-2" width="217.4" height="34.4" fill="#fff" stroke="#9a9a9a" stroke-width="1.3"/>
<line x1="51.2" y1="0.5" x2="959" y2="0.5" stroke="#9a9a9a" stroke-width="1.2" />
<line x1="959" y1="0" x2="959" y2="40" stroke="#000" stroke-width="1.8" />
<text x="746" y="18.7" fill="#000" textLength="192.3" lengthAdjust="spacing" >NBE 32-250/199, 3*400 V</text>
<line x1="51.4" y1="519.9" x2="51.4" y2="688.1" stroke="#000" stroke-width="1.7" />
<line x1="959" y1="519.9" x2="959" y2="688.2" stroke="#000" stroke-width="1.8" />
<line x1="44" y1="687.5" x2="51.2" y2="687.5" stroke="#000" stroke-width="1.5" />
<text x="38.3" y="692.3" text-anchor="end" fill="#000">0</text>
<line x1="44" y1="645.9" x2="51.2" y2="645.9" stroke="#000" stroke-width="1.5" />
<text x="38.5" y="650.7" text-anchor="end" fill="#000">2</text>
<line x1="44" y1="604.3" x2="51.2" y2="604.3" stroke="#000" stroke-width="1.5" />
<text x="38.2" y="609.1" text-anchor="end" fill="#000">4</text>
<line x1="44" y1="562.7" x2="51.2" y2="562.7" stroke="#000" stroke-width="1.5" />
<line x1="959" y1="687.5" x2="966.3" y2="687.5" stroke="#000" stroke-width="1.5" />
<text x="970.9" y="692.3" fill="#000">0</text>
<line x1="959" y1="666.7" x2="966.3" y2="666.7" stroke="#000" stroke-width="1.5" />
<text x="970.9" y="671.5" fill="#000">5</text>
<line x1="959" y1="645.9" x2="966.3" y2="645.9" stroke="#000" stroke-width="1.5" />
<text x="970.3" y="650.7" fill="#000">10</text>
<line x1="959" y1="625.1" x2="966.3" y2="625.1" stroke="#000" stroke-width="1.5" />
<text x="970.3" y="629.9" fill="#000">15</text>
<line x1="959" y1="604.3" x2="966.3" y2="604.3" stroke="#000" stroke-width="1.5" />
<text x="970.7" y="609.1" fill="#000">20</text>
<line x1="959" y1="583.5" x2="966.3" y2="583.5" stroke="#000" stroke-width="1.5" />
<text x="970.7" y="588.3" fill="#000">25</text>
<line x1="959" y1="562.7" x2="966.3" y2="562.7" stroke="#000" stroke-width="1.5" />
<line x1="959" y1="541.9" x2="966.3" y2="541.9" stroke="#000" stroke-width="1.5" />
<text x="19.2" y="534.7" fill="#000"  >P</text>
<text x="6.9" y="554.7" fill="#000" textLength="35.6" lengthAdjust="spacing" >[kW]</text>
<text x="967.2" y="534.8" fill="#000" textLength="47.2" lengthAdjust="spacing" >NPSH</text>
<text x="978.3" y="554.7" fill="#000" textLength="24.4" lengthAdjust="spacing" >[m]</text>
<text x="53.9" y="445.9" fill="#000" textLength="114.1" lengthAdjust="spacing" >Q = 18.79 m³/h</text>
<text x="53.9" y="467" fill="#000" textLength="161.1" lengthAdjust="spacing" >n = 100 % / 2897 rpm</text>
<text x="53.7" y="488.9" fill="#000" textLength="330.5" lengthAdjust="spacing" >Liquid temperature during operation = 20 °C</text>
<text x="53.7" y="510" fill="#000" textLength="143.1" lengthAdjust="spacing" >Eta pump = 43.9 %</text>
<text x="438.9" y="445.9" fill="#000" textLength="92.4" lengthAdjust="spacing" >H = 41.34 m</text>
<text x="438.9" y="467" fill="#000" textLength="170.4" lengthAdjust="spacing" >Pumped liquid = Water</text>
<text x="438.9" y="488.9" fill="#000" textLength="167" lengthAdjust="spacing" >Density = 998.2 kg/m³</text>
<text x="438.9" y="510" fill="#000" textLength="311.7" lengthAdjust="spacing" >Eta pump+motor+freq.converter = 40.8 %</text>
<text x="54.1" y="716.1" fill="#000" textLength="286.6" lengthAdjust="spacing" >P1 (motor+freq.converter) = 5.181 kW</text>
<text x="54.1" y="737.6" fill="#000" textLength="102.2" lengthAdjust="spacing" >P2 = 4.81 kW</text>
<text x="54.1" y="759.1" fill="#000" textLength="117.3" lengthAdjust="spacing" >NPSH = 3.31 m</text>
</svg>
</body></html>
